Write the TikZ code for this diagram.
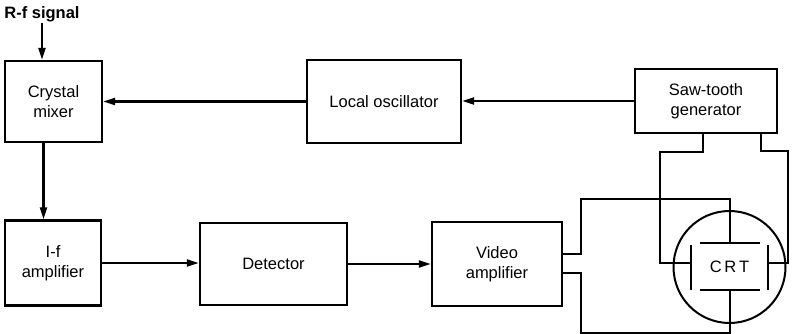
\documentclass[tikz,border=0pt]{standalone}
\usepackage{fontspec}
\setmainfont{Liberation Sans}
\usetikzlibrary{positioning, arrows.meta, calc}

\begin{document}
\begin{tikzpicture}[
    x=1pt, y=-1pt, font=\fontsize{16.5}{20}\selectfont,
    block/.style={draw, align=center, inner sep=0pt, line width=2.2pt},
    tube/.style={circle, draw, inner sep=0pt, minimum size=112pt, line width=2pt},
    wire/.style={line width=2pt},
    flow/.style={-{Triangle[length=12pt, width=7pt]}, line width=2.2pt}
]
\useasboundingbox (0,0) rectangle (793,334);
% upper row
\node[block, minimum width=97pt, minimum height=81pt] (mixer) at (53.5,101.5) {Crystal\\mixer};
\node[block, minimum width=154pt, minimum height=83pt] (losc) at (384,101.5) {Local oscillator};
\node[block, minimum width=142pt, minimum height=64pt] (saw) at (706,101) {Saw-tooth\\generator};
\node[font=\bfseries\fontsize{16.5}{20}\selectfont, inner sep=1pt] (rf) at (42,14) {R-f signal};
% lower row
\node[block, minimum width=96pt, minimum height=85pt] (ifamp) at (53,263) {I-f\\amplifier};
\node[block, minimum width=147pt, minimum height=82pt] (det) at (273.5,264) {Detector};
\node[block, minimum width=130pt, minimum height=84pt] (video) at (497,264) {Video\\amplifier};
\node[tube] (crt) at (729.5,267) {C\,R\,T};
% deflection plates
\draw[wire] ($(crt)+(-30,-24)$) -- ($(crt)+(30,-24)$);
\draw[wire] ($(crt)+(-30,23)$) -- ($(crt)+(30,23)$);
\draw[wire] ($(crt)+(-39,-22)$) -- ($(crt)+(-39,23)$);
\draw[wire] ($(crt)+(38,-22)$) -- ($(crt)+(38,23)$);
\coordinate (ptop) at ($(crt)+(0,-24)$);
\coordinate (pbot) at ($(crt)+(0,23)$);
\coordinate (pleft) at ($(crt)+(-39,-4)$);
\coordinate (pright) at ($(crt)+(38,-4)$);
% signal path
\draw[flow] (rf.south) -- (rf.south |- mixer.north);
\draw[flow] (saw.west) -- (saw.west -| losc.east);
\draw[flow] (losc.west) -- (losc.west -| mixer.east);
\draw[flow] ([xshift=-10pt]mixer.south) -- ([xshift=-10pt]mixer.south |- ifamp.north);
\draw[flow] (ifamp.east) -- (ifamp.east -| det.west);
\draw[flow] (det) -- (video);
% wiring to the tube
\draw[wire] ($(video.east)+(0,-10)$) -- ++(18,0) |- ($(crt.north)+(0,-11)$) -- (ptop);
\draw[wire] ($(video.east)+(0,9)$) -- ++(18,0) |- ($(crt.south)+(0,9)$) -- (pbot);
\draw[wire] ($(saw.south)+(-3,0)$) -- ++(0,18) -| ($(pleft)+(-31,0)$) -- (pleft);
\draw[wire] ($(saw.south)+(55,0)$) -- ++(0,17) -| ($(pright)+(20,0)$) -- (pright);
\end{tikzpicture}
\end{document}
